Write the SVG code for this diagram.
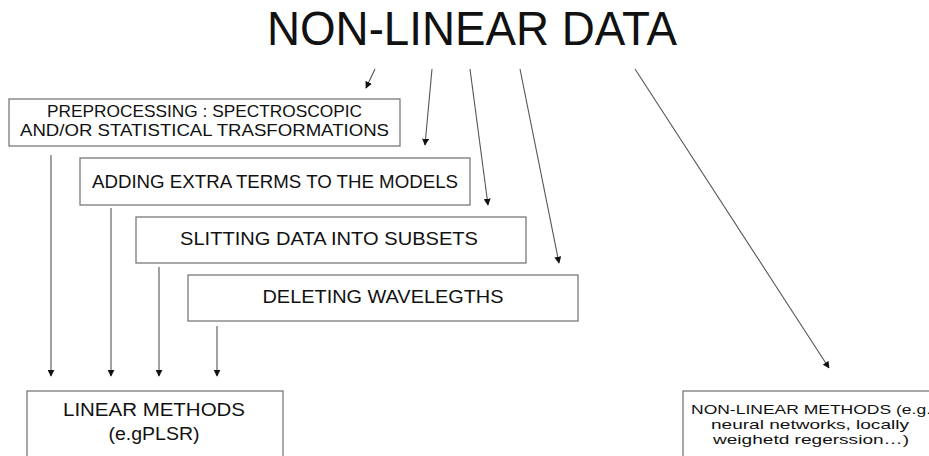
<svg xmlns="http://www.w3.org/2000/svg" width="929" height="456" viewBox="0 0 929 456">
<defs>
<marker id="ah" viewBox="0 0 10 10" refX="9" refY="5" markerWidth="7" markerHeight="7" markerUnits="userSpaceOnUse" orient="auto">
<path d="M0,0 L10,5 L0,10 z" fill="#111"/>
</marker>
<style>
.box{fill:#fff;stroke:#6e6e6e;stroke-width:1.2}
.t{font-family:"Liberation Sans","Open Sans",sans-serif;fill:#111;text-anchor:middle}
.c line{stroke:#555;stroke-width:1.1;marker-end:url(#ah)}
</style>
</defs>
<rect width="929" height="456" fill="#fff"/>
<g id="title"><text class="t" x="472" y="45" font-size="48" font-weight="300" textLength="410" lengthAdjust="spacingAndGlyphs">NON-LINEAR DATA</text></g>
<g id="preprocessing">
<rect class="box" x="9" y="99" width="391" height="47"/>
<text class="t" x="204.5" y="117" font-size="16.5" textLength="315" lengthAdjust="spacingAndGlyphs">PREPROCESSING : SPECTROSCOPIC</text>
<text class="t" x="204.5" y="136" font-size="16.5" textLength="369" lengthAdjust="spacingAndGlyphs">AND/OR STATISTICAL TRASFORMATIONS</text>
</g>
<g id="adding">
<rect class="box" x="80" y="158" width="390" height="47"/>
<text class="t" x="275" y="188" font-size="17.5" textLength="366" lengthAdjust="spacingAndGlyphs">ADDING EXTRA TERMS TO THE MODELS</text>
</g>
<g id="slitting">
<rect class="box" x="136" y="217" width="390" height="46"/>
<text class="t" x="329" y="245" font-size="17.5" textLength="298" lengthAdjust="spacingAndGlyphs">SLITTING DATA INTO SUBSETS</text>
</g>
<g id="deleting">
<rect class="box" x="188" y="275" width="390" height="46"/>
<text class="t" x="383" y="303" font-size="17.5" textLength="241" lengthAdjust="spacingAndGlyphs">DELETING WAVELEGTHS</text>
</g>
<g id="linear">
<rect class="box" x="27" y="391" width="256" height="70"/>
<text class="t" x="154" y="416" font-size="17.5" textLength="182" lengthAdjust="spacingAndGlyphs">LINEAR METHODS</text>
<text class="t" x="154" y="440" font-size="17.5" textLength="91" lengthAdjust="spacingAndGlyphs">(e.gPLSR)</text>
</g>
<g id="nonlinear">
<rect class="box" x="683" y="391" width="260" height="70"/>
<text class="t" x="811" y="414" font-size="13.5" textLength="240" lengthAdjust="spacingAndGlyphs">NON-LINEAR METHODS (e.g.</text>
<text class="t" x="810" y="429" font-size="13.5" textLength="198" lengthAdjust="spacingAndGlyphs">neural networks, locally</text>
<text class="t" x="811" y="444" font-size="13.5" textLength="196" lengthAdjust="spacingAndGlyphs">weighetd regerssion…)</text>
</g>
<g id="connectors" class="c">
<line x1="375" y1="69" x2="366" y2="88"/>
<line x1="432" y1="69" x2="425" y2="145"/>
<line x1="470" y1="69" x2="488" y2="205"/>
<line x1="520" y1="69" x2="559" y2="263"/>
<line x1="635" y1="69" x2="829" y2="368"/>
<line x1="51" y1="155" x2="51" y2="376"/>
<line x1="111" y1="208" x2="111" y2="376"/>
<line x1="159" y1="267" x2="159" y2="376"/>
<line x1="217" y1="326" x2="217" y2="376"/>
</g>
</svg>
